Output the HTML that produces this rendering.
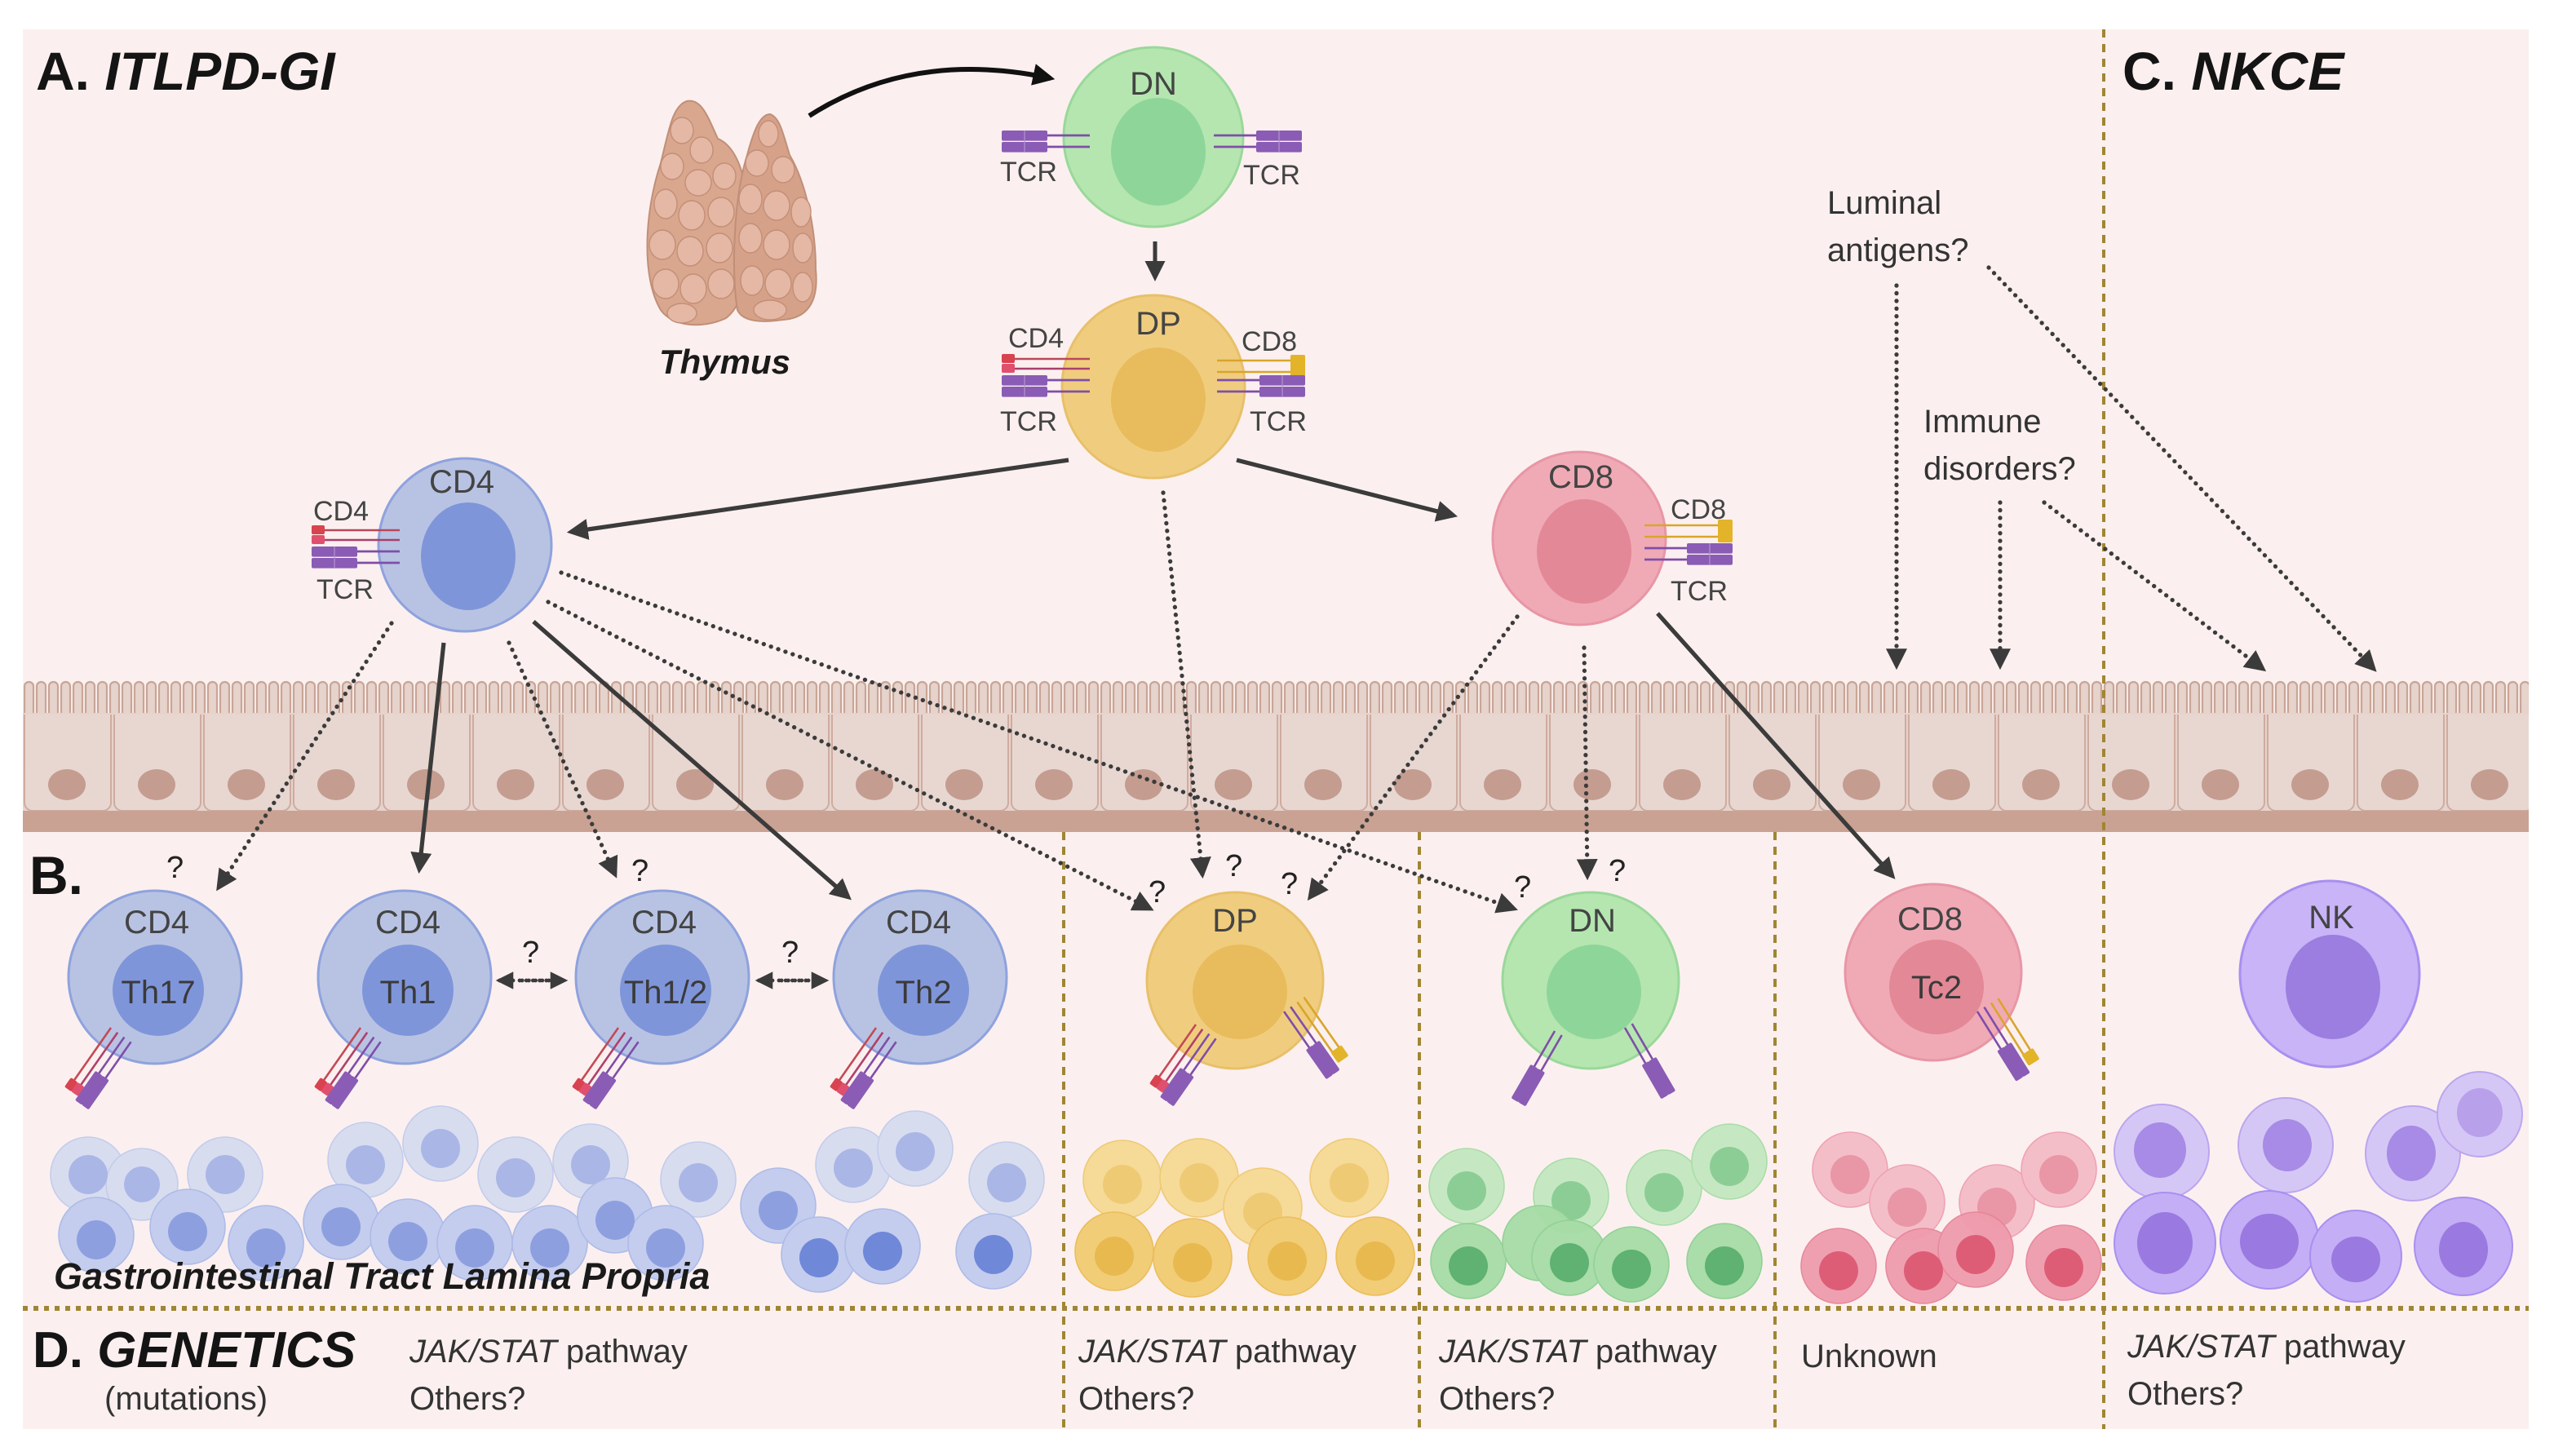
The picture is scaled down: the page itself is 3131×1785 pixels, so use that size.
<!DOCTYPE html>
<html><head><meta charset="utf-8">
<style>
html,body{margin:0;padding:0;background:#fff;}
svg{display:block;}
text{font-family:"Liberation Sans",sans-serif;}
</style></head>
<body>
<svg width="3131" height="1785" viewBox="0 0 1565.5 892.5" xmlns="http://www.w3.org/2000/svg">
<defs>
  <marker id="ah" viewBox="0 0 10 10" refX="8" refY="5" markerWidth="5" markerHeight="5" orient="auto" markerUnits="strokeWidth">
    <path d="M0,0 L10,5 L0,10 z" fill="#3b3b3b"/>
  </marker>
  <marker id="ahs" viewBox="0 0 10 10" refX="8" refY="5" markerWidth="4.5" markerHeight="4.5" orient="auto" markerUnits="strokeWidth">
    <path d="M0,0 L10,5 L0,10 z" fill="#3b3b3b"/>
  </marker>
  <marker id="ahb" viewBox="0 0 10 10" refX="8" refY="5" markerWidth="4.5" markerHeight="4.5" orient="auto" markerUnits="strokeWidth">
    <path d="M0,0 L10,5 L0,10 z" fill="#111"/>
  </marker>
  <pattern id="villi" x="14" y="417" width="7.5" height="30" patternUnits="userSpaceOnUse">
    <rect width="7.5" height="30" fill="#fbf1ef"/>
    <rect x="1" y="1" width="5.5" height="40" rx="2.7" fill="#e6d3cc" stroke="#c9a597" stroke-width="1.1"/>
  </pattern>
  <pattern id="ecell" x="14" y="0" width="55" height="600" patternUnits="userSpaceOnUse">
    <rect x="0" y="0" width="55" height="600" fill="#e6d3cc"/>
    <rect x="1" y="400" width="53" height="97" rx="5" fill="#e8d7d1" stroke="#cfab9f" stroke-width="1"/>
    <ellipse cx="27" cy="481" rx="11.5" ry="9.5" fill="#c49c90"/>
  </pattern>
  <g id="b4">
    <line x1="0" y1="0" x2="0" y2="40" stroke="#c44a55" stroke-width="1.3"/>
    <line x1="5" y1="0" x2="5" y2="40" stroke="#b0406b" stroke-width="1.3"/>
    <rect x="-2.6" y="39" width="5.2" height="7" rx="1" fill="#d9424f"/>
    <rect x="2.4" y="39" width="5.2" height="7" rx="1" fill="#e0506e"/>
    <line x1="10" y1="0" x2="10" y2="28" stroke="#7f4ea8" stroke-width="1.3"/>
    <line x1="15" y1="0" x2="15" y2="28" stroke="#7f4ea8" stroke-width="1.3"/>
    <rect x="7.4" y="27" width="5.2" height="22" rx="1" fill="#8a5cb5"/>
    <rect x="12.4" y="27" width="5.2" height="22" rx="1" fill="#8a5cb5"/>
  </g>
  <g id="b8">
    <line x1="0" y1="0" x2="0" y2="28" stroke="#7f4ea8" stroke-width="1.3"/>
    <line x1="5" y1="0" x2="5" y2="28" stroke="#7f4ea8" stroke-width="1.3"/>
    <rect x="-2.6" y="27" width="5.2" height="22" rx="1" fill="#8a5cb5"/>
    <rect x="2.4" y="27" width="5.2" height="22" rx="1" fill="#8a5cb5"/>
    <line x1="10" y1="0" x2="10" y2="38" stroke="#d9a52a" stroke-width="1.3"/>
    <line x1="15" y1="0" x2="15" y2="38" stroke="#d9a52a" stroke-width="1.3"/>
    <rect x="9" y="37" width="8" height="8" rx="1" fill="#e3b32a"/>
  </g>
  <g id="bt">
    <line x1="0" y1="0" x2="0" y2="26" stroke="#7f4ea8" stroke-width="1.3"/>
    <line x1="5" y1="0" x2="5" y2="26" stroke="#7f4ea8" stroke-width="1.3"/>
    <rect x="-2.6" y="25" width="5.2" height="24" rx="1" fill="#8a5cb5"/>
    <rect x="2.4" y="25" width="5.2" height="24" rx="1" fill="#8a5cb5"/>
  </g>
  <g id="htcrL">
    <line x1="0" y1="0" x2="-26" y2="0" stroke="#7f4ea8" stroke-width="1.4"/>
    <line x1="0" y1="7" x2="-26" y2="7" stroke="#7f4ea8" stroke-width="1.4"/>
    <rect x="-54" y="-3" width="28" height="6.3" rx="1" fill="#8a5cb5"/>
    <rect x="-54" y="4" width="28" height="6.3" rx="1" fill="#8a5cb5"/>
    <line x1="-40" y1="-3" x2="-40" y2="10" stroke="#b193cf" stroke-width="0.6"/>
  </g>
  <g id="hcd4L">
    <line x1="0" y1="0" x2="-50" y2="0" stroke="#b8485a" stroke-width="1.3"/>
    <line x1="0" y1="6" x2="-50" y2="6" stroke="#a8406e" stroke-width="1.3"/>
    <rect x="-54" y="-3" width="8" height="5.5" rx="1" fill="#d9424f"/>
    <rect x="-54" y="3" width="8" height="5.5" rx="1" fill="#e0506e"/>
  </g>
  <g id="hcd8R">
    <line x1="0" y1="0" x2="46" y2="0" stroke="#d9a52a" stroke-width="1.3"/>
    <line x1="0" y1="7" x2="46" y2="7" stroke="#d9a52a" stroke-width="1.3"/>
    <rect x="45" y="-3.5" width="9" height="14" rx="1" fill="#e3b32a"/>
  </g>
</defs>

<rect x="14" y="18" width="1536" height="858" fill="#fbf0ef"/>

<!-- epithelium -->
<rect x="14" y="417" width="1536" height="22" fill="url(#villi)"/>
<rect x="14" y="437" width="1536" height="3" fill="#e6d3cc"/>
<rect x="14" y="438" width="1536" height="60" fill="url(#ecell)"/>
<rect x="14" y="497" width="1536" height="13" fill="#c9a294"/>

<g stroke="#a08634" stroke-width="2" stroke-dasharray="5 4" fill="none">
  <line x1="1289.5" y1="18" x2="1289.5" y2="876"/>
  <line x1="652" y1="510" x2="652" y2="876"/>
  <line x1="870" y1="510" x2="870" y2="876"/>
  <line x1="1088" y1="510" x2="1088" y2="876"/>
</g>
<line x1="14" y1="802" x2="1550" y2="802" stroke="#a08634" stroke-width="3" stroke-dasharray="3 3.5"/>

<text x="22" y="55" font-size="33" font-weight="bold" fill="#141414">A. <tspan font-style="italic">ITLPD-GI</tspan></text>
<text x="1301" y="55" font-size="33" font-weight="bold" fill="#141414">C. <tspan font-style="italic">NKCE</tspan></text>
<text x="18" y="548" font-size="33" font-weight="bold" fill="#141414">B.</text>

<!-- Thymus -->
<g stroke="#c08f78" stroke-width="1">
  <path d="M405,190 C393,170 395,130 405,100 C410,80 412,65 421,62 C430,60 434,72 440,85 C452,90 458,110 458,130 C460,160 458,185 445,195 C430,202 412,200 405,190 Z" fill="#d9a68e"/>
  <path d="M452,190 C448,165 450,120 458,95 C462,80 466,70 472,70 C478,72 480,82 484,95 C494,112 500,140 500,165 C502,185 495,195 480,196 C466,198 455,197 452,190 Z" fill="#d6a189"/>
</g>
<g fill="#e4b8a4" stroke="#c48e77" stroke-width="0.7">
  <ellipse cx="418" cy="80" rx="7" ry="8"/><ellipse cx="430" cy="92" rx="7" ry="8"/><ellipse cx="412" cy="102" rx="7" ry="8"/><ellipse cx="428" cy="112" rx="8" ry="8"/><ellipse cx="444" cy="108" rx="7" ry="8"/>
  <ellipse cx="408" cy="125" rx="7" ry="9"/><ellipse cx="424" cy="132" rx="8" ry="9"/><ellipse cx="442" cy="130" rx="8" ry="9"/>
  <ellipse cx="406" cy="150" rx="8" ry="9"/><ellipse cx="423" cy="154" rx="8" ry="9"/><ellipse cx="441" cy="152" rx="8" ry="9"/>
  <ellipse cx="408" cy="174" rx="8" ry="9"/><ellipse cx="425" cy="177" rx="8" ry="9"/><ellipse cx="442" cy="174" rx="8" ry="9"/><ellipse cx="418" cy="192" rx="9" ry="6"/>
  <ellipse cx="471" cy="82" rx="6" ry="8"/><ellipse cx="464" cy="100" rx="7" ry="8"/><ellipse cx="480" cy="104" rx="7" ry="8"/>
  <ellipse cx="460" cy="122" rx="7" ry="9"/><ellipse cx="476" cy="126" rx="8" ry="9"/><ellipse cx="491" cy="130" rx="6" ry="9"/>
  <ellipse cx="460" cy="146" rx="7" ry="9"/><ellipse cx="476" cy="150" rx="8" ry="9"/><ellipse cx="492" cy="152" rx="6" ry="9"/>
  <ellipse cx="461" cy="172" rx="7" ry="9"/><ellipse cx="477" cy="174" rx="8" ry="9"/><ellipse cx="492" cy="176" rx="6" ry="9"/><ellipse cx="472" cy="190" rx="10" ry="6"/>
</g>
<text x="404" y="229" font-size="21" font-weight="bold" font-style="italic" fill="#1a1a1a">Thymus</text>
<path d="M496,71 Q560,30 644,48" fill="none" stroke="#111" stroke-width="3" marker-end="url(#ahb)"/>

<!-- DN top -->
<circle cx="707" cy="84" r="55" fill="#b5e6b0" stroke="#9ad89a" stroke-width="1.5"/>
<ellipse cx="710" cy="93" rx="29" ry="33" fill="#8ed59a"/>
<text x="707" y="58" font-size="20" fill="#444" text-anchor="middle">DN</text>
<use href="#htcrL" x="668" y="83"/>
<use href="#htcrL" transform="translate(744,83) scale(-1,1)"/>
<text x="613" y="111" font-size="17" fill="#444">TCR</text>
<text x="762" y="113" font-size="17" fill="#444">TCR</text>

<line x1="708" y1="148" x2="708" y2="170" stroke="#3b3b3b" stroke-width="2.5" marker-end="url(#ah)"/>

<!-- DP top -->
<circle cx="707" cy="237" r="56" fill="#f0cd7e" stroke="#e8c06a" stroke-width="1.5"/>
<ellipse cx="710" cy="245" rx="29" ry="32" fill="#e8bb5c"/>
<text x="710" y="205" font-size="20" fill="#444" text-anchor="middle">DP</text>
<use href="#hcd4L" x="668" y="220"/>
<use href="#htcrL" x="668" y="233"/>
<use href="#hcd8R" x="746" y="221"/>
<use href="#htcrL" transform="translate(746,233) scale(-1,1)"/>
<text x="618" y="213" font-size="17" fill="#444">CD4</text>
<text x="613" y="264" font-size="17" fill="#444">TCR</text>
<text x="761" y="215" font-size="17" fill="#444">CD8</text>
<text x="766" y="264" font-size="17" fill="#444">TCR</text>

<!-- CD4 top -->
<circle cx="285" cy="334" r="53" fill="#b8c3e3" stroke="#8fa2de" stroke-width="1.5"/>
<ellipse cx="287" cy="341" rx="29" ry="33" fill="#7f95da"/>
<text x="283" y="302" font-size="20" fill="#444" text-anchor="middle">CD4</text>
<use href="#hcd4L" x="245" y="325"/>
<use href="#htcrL" x="245" y="338"/>
<text x="192" y="319" font-size="17" fill="#444">CD4</text>
<text x="194" y="367" font-size="17" fill="#444">TCR</text>

<!-- CD8 top -->
<circle cx="968" cy="330" r="53" fill="#f0aab6" stroke="#e896a6" stroke-width="1.5"/>
<ellipse cx="971" cy="338" rx="29" ry="32" fill="#e38896"/>
<text x="969" y="299" font-size="20" fill="#444" text-anchor="middle">CD8</text>
<use href="#hcd8R" x="1008" y="322"/>
<use href="#htcrL" transform="translate(1008,336) scale(-1,1)"/>
<text x="1024" y="318" font-size="17" fill="#444">CD8</text>
<text x="1024" y="368" font-size="17" fill="#444">TCR</text>

<g stroke="#3b3b3b" stroke-width="2.6" fill="none" marker-end="url(#ah)">
  <line x1="655" y1="282" x2="350" y2="326"/>
  <line x1="758" y1="282" x2="891" y2="316"/>
  <line x1="272" y1="394" x2="257" y2="533"/>
  <line x1="327" y1="381" x2="520" y2="550"/>
  <line x1="1016" y1="376" x2="1160" y2="537"/>
</g>
<g stroke="#3b3b3b" stroke-width="2.6" fill="none" stroke-dasharray="0.1 4.6" stroke-linecap="round" marker-end="url(#ah)">
  <line x1="240" y1="382" x2="134" y2="544"/>
  <line x1="312" y1="394" x2="377" y2="536"/>
  <line x1="336" y1="369" x2="705" y2="557"/>
  <line x1="344" y1="351" x2="928" y2="557"/>
  <line x1="713" y1="302" x2="737" y2="536"/>
  <line x1="930" y1="378" x2="803" y2="550"/>
  <line x1="971" y1="397" x2="973" y2="537"/>
  <line x1="1162.5" y1="175" x2="1162.5" y2="408"/>
  <line x1="1226" y1="308" x2="1226" y2="408"/>
  <line x1="1253" y1="308" x2="1387" y2="410"/>
  <line x1="1219" y1="164" x2="1455" y2="410"/>
</g>
<g stroke="#3b3b3b" stroke-width="2.4" fill="none" stroke-dasharray="0.1 4" stroke-linecap="round" marker-end="url(#ahs)">
  <line x1="320" y1="601" x2="346" y2="601"/>
  <line x1="335" y1="601" x2="306" y2="601"/>
  <line x1="479" y1="601" x2="506" y2="601"/>
  <line x1="494" y1="601" x2="465" y2="601"/>
</g>

<g font-size="19" fill="#222">
  <text x="102" y="538">?</text>
  <text x="387" y="540">?</text>
  <text x="320" y="590">?</text>
  <text x="479" y="590">?</text>
  <text x="704" y="553">?</text>
  <text x="751" y="537">?</text>
  <text x="785" y="548">?</text>
  <text x="928" y="550">?</text>
  <text x="986" y="540">?</text>
</g>

<text x="1120" y="131" font-size="20" fill="#333">Luminal</text>
<text x="1120" y="160" font-size="20" fill="#333">antigens?</text>
<text x="1179" y="265" font-size="20" fill="#333">Immune</text>
<text x="1179" y="294" font-size="20" fill="#333">disorders?</text>

<!-- Background cell clusters -->
<g>
  <g fill="#d6dcf0" stroke="#c2cbeb" stroke-width="0.8" opacity="0.95">
    <circle cx="54" cy="720" r="23"/><circle cx="87" cy="726" r="22"/><circle cx="138" cy="720" r="23"/>
    <circle cx="224" cy="711" r="23"/><circle cx="270" cy="701" r="23"/><circle cx="316" cy="720" r="23"/>
    <circle cx="362" cy="712" r="23"/><circle cx="428" cy="723" r="23"/><circle cx="523" cy="714" r="23"/><circle cx="561" cy="704" r="23"/><circle cx="617" cy="723" r="23"/>
  </g>
  <g fill="#aab6e6">
    <circle cx="54" cy="720" r="12"/><circle cx="87" cy="726" r="11"/><circle cx="138" cy="720" r="12"/>
    <circle cx="224" cy="714" r="12"/><circle cx="270" cy="704" r="12"/><circle cx="316" cy="722" r="12"/>
    <circle cx="362" cy="714" r="12"/><circle cx="428" cy="725" r="12"/><circle cx="523" cy="716" r="12"/><circle cx="561" cy="706" r="12"/><circle cx="617" cy="725" r="12"/>
  </g>
  <g fill="#c4cdee" stroke="#aebbe8" stroke-width="0.8">
    <circle cx="59" cy="757" r="23"/><circle cx="115" cy="752" r="23"/><circle cx="163" cy="762" r="23"/>
    <circle cx="209" cy="749" r="23"/><circle cx="250" cy="758" r="23"/><circle cx="291" cy="762" r="23"/><circle cx="337" cy="762" r="23"/>
    <circle cx="377" cy="745" r="23"/><circle cx="408" cy="762" r="23"/><circle cx="477" cy="739" r="23"/>
    <circle cx="502" cy="769" r="23"/><circle cx="541" cy="764" r="23"/><circle cx="609" cy="767" r="23"/>
  </g>
  <g fill="#8d9fdf">
    <circle cx="59" cy="760" r="12"/><circle cx="115" cy="755" r="12"/><circle cx="163" cy="765" r="12"/>
    <circle cx="209" cy="752" r="12"/><circle cx="250" cy="761" r="12"/><circle cx="291" cy="765" r="12"/><circle cx="337" cy="765" r="12"/>
    <circle cx="377" cy="748" r="12"/><circle cx="408" cy="765" r="12"/><circle cx="477" cy="742" r="12"/>
    <circle cx="502" cy="771" r="12" fill="#6f88d8"/><circle cx="541" cy="767" r="12" fill="#6f88d8"/><circle cx="609" cy="769" r="12" fill="#6f88d8"/>
  </g>
</g>
<g>
  <g fill="#f6d994" stroke="#efc870" stroke-width="0.8" opacity="0.95">
    <circle cx="688" cy="723" r="24"/><circle cx="735" cy="722" r="24"/><circle cx="827" cy="722" r="24"/><circle cx="774" cy="740" r="24"/>
  </g>
  <g fill="#efca74"><circle cx="688" cy="726" r="12"/><circle cx="735" cy="725" r="12"/><circle cx="827" cy="725" r="12"/><circle cx="774" cy="743" r="12"/></g>
  <g fill="#f2cd78" stroke="#ebbd5c" stroke-width="0.8">
    <circle cx="683" cy="767" r="24"/><circle cx="731" cy="771" r="24"/><circle cx="789" cy="770" r="24"/><circle cx="843" cy="770" r="24"/>
  </g>
  <g fill="#e8b94f"><circle cx="683" cy="770" r="12"/><circle cx="731" cy="774" r="12"/><circle cx="789" cy="773" r="12"/><circle cx="843" cy="773" r="12"/></g>
</g>
<g>
  <g fill="#c3e8c0" stroke="#a7dba6" stroke-width="0.8" opacity="0.95">
    <circle cx="899" cy="727" r="23"/><circle cx="963" cy="733" r="23"/><circle cx="1020" cy="728" r="23"/><circle cx="1060" cy="712" r="23"/>
  </g>
  <g fill="#8ccd96"><circle cx="899" cy="730" r="12"/><circle cx="963" cy="736" r="12"/><circle cx="1020" cy="731" r="12"/><circle cx="1060" cy="715" r="12"/></g>
  <g fill="#a6dca6" stroke="#8fcf93" stroke-width="0.8" opacity="0.95">
    <circle cx="900" cy="773" r="23"/><circle cx="944" cy="762" r="23"/><circle cx="962" cy="771" r="23"/><circle cx="1000" cy="775" r="23"/><circle cx="1057" cy="773" r="23"/>
  </g>
  <g fill="#5fb271"><circle cx="900" cy="776" r="12"/><circle cx="962" cy="774" r="12"/><circle cx="1000" cy="778" r="12"/><circle cx="1057" cy="776" r="12"/></g>
</g>
<g>
  <g fill="#f4bcc7" stroke="#ee9fb0" stroke-width="0.8" opacity="0.95">
    <circle cx="1134" cy="717" r="23"/><circle cx="1169" cy="737" r="23"/><circle cx="1224" cy="737" r="23"/><circle cx="1262" cy="717" r="23"/>
  </g>
  <g fill="#e996a7"><circle cx="1134" cy="720" r="12"/><circle cx="1169" cy="740" r="12"/><circle cx="1224" cy="740" r="12"/><circle cx="1262" cy="720" r="12"/></g>
  <g fill="#ef9cad" stroke="#e58599" stroke-width="0.8" opacity="0.95">
    <circle cx="1127" cy="776" r="23"/><circle cx="1179" cy="776" r="23"/><circle cx="1211" cy="766" r="23"/><circle cx="1265" cy="774" r="23"/>
  </g>
  <g fill="#dd5d77"><circle cx="1127" cy="779" r="12"/><circle cx="1179" cy="779" r="12"/><circle cx="1211" cy="769" r="12"/><circle cx="1265" cy="777" r="12"/></g>
</g>
<g>
  <g fill="#d4c5f6" stroke="#b9a3f0" stroke-width="1" opacity="0.95">
    <circle cx="1325" cy="706" r="29"/><circle cx="1401" cy="702" r="29"/><circle cx="1479" cy="707" r="29"/><circle cx="1520" cy="683" r="26"/>
  </g>
  <g fill="#a78be6"><ellipse cx="1324" cy="705" rx="16" ry="17"/><ellipse cx="1402" cy="702" rx="15" ry="16"/><ellipse cx="1478" cy="707" rx="15" ry="17"/><ellipse cx="1520" cy="682" rx="14" ry="15" fill="#b9a0ea"/></g>
  <g fill="#c4aef5" stroke="#a98ff0" stroke-width="1">
    <circle cx="1327" cy="762" r="31"/><circle cx="1391" cy="760" r="30"/><circle cx="1444" cy="770" r="28"/><circle cx="1510" cy="764" r="30"/>
  </g>
  <g fill="#9a79e0"><ellipse cx="1327" cy="762" rx="17" ry="19"/><ellipse cx="1391" cy="761" rx="18" ry="17"/><ellipse cx="1444" cy="772" rx="15" ry="14"/><ellipse cx="1510" cy="766" rx="15" ry="17"/></g>
</g>

<!-- B row cells -->
<g>
  <circle cx="95" cy="599" r="53" fill="#b8c3e3" stroke="#8fa2de" stroke-width="1.5"/>
  <circle cx="97" cy="607" r="28" fill="#7f95da"/>
  <text x="96" y="572" font-size="20" fill="#444" text-anchor="middle">CD4</text>
  <text x="97" y="615" font-size="20" fill="#3a3a3a" text-anchor="middle">Th17</text>

  <circle cx="248" cy="599" r="53" fill="#b8c3e3" stroke="#8fa2de" stroke-width="1.5"/>
  <circle cx="250" cy="607" r="28" fill="#7f95da"/>
  <text x="250" y="572" font-size="20" fill="#444" text-anchor="middle">CD4</text>
  <text x="250" y="615" font-size="20" fill="#3a3a3a" text-anchor="middle">Th1</text>

  <circle cx="406" cy="599" r="53" fill="#b8c3e3" stroke="#8fa2de" stroke-width="1.5"/>
  <circle cx="408" cy="607" r="28" fill="#7f95da"/>
  <text x="407" y="572" font-size="20" fill="#444" text-anchor="middle">CD4</text>
  <text x="408" y="615" font-size="20" fill="#3a3a3a" text-anchor="middle">Th1/2</text>

  <circle cx="564" cy="599" r="53" fill="#b8c3e3" stroke="#8fa2de" stroke-width="1.5"/>
  <circle cx="566" cy="607" r="28" fill="#7f95da"/>
  <text x="563" y="572" font-size="20" fill="#444" text-anchor="middle">CD4</text>
  <text x="566" y="615" font-size="20" fill="#3a3a3a" text-anchor="middle">Th2</text>

  <circle cx="757" cy="601" r="54" fill="#f0cd7e" stroke="#e8c06a" stroke-width="1.5"/>
  <circle cx="760" cy="608" r="29" fill="#e8bb5c"/>
  <text x="757" y="571" font-size="20" fill="#444" text-anchor="middle">DP</text>

  <circle cx="975" cy="601" r="54" fill="#b5e6b0" stroke="#9ad89a" stroke-width="1.5"/>
  <circle cx="977" cy="608" r="29" fill="#8ed59a"/>
  <text x="976" y="571" font-size="20" fill="#444" text-anchor="middle">DN</text>

  <circle cx="1185" cy="596" r="54" fill="#f0aab6" stroke="#e896a6" stroke-width="1.5"/>
  <circle cx="1187" cy="605" r="29" fill="#e38896"/>
  <text x="1183" y="570" font-size="20" fill="#444" text-anchor="middle">CD8</text>
  <text x="1187" y="612" font-size="20" fill="#3a3a3a" text-anchor="middle">Tc2</text>

  <ellipse cx="1428" cy="597" rx="55" ry="57" fill="#c8b4f6" stroke="#a98ff0" stroke-width="1.5"/>
  <ellipse cx="1430" cy="605" rx="29" ry="32" fill="#9c7de0"/>
  <text x="1429" y="569" font-size="20" fill="#444" text-anchor="middle">NK</text>
</g>
<use href="#b4" transform="translate(68,630) rotate(35)"/>
<use href="#b4" transform="translate(221,630) rotate(35)"/>
<use href="#b4" transform="translate(379,630) rotate(35)"/>
<use href="#b4" transform="translate(537,630) rotate(35)"/>
<use href="#b4" transform="translate(733,628) rotate(35)"/>
<use href="#b8" transform="translate(787,620) rotate(-35)"/>
<use href="#bt" transform="translate(953,632) rotate(30)"/>
<use href="#bt" transform="translate(996,630) rotate(-30)"/>
<use href="#b8" transform="translate(1212,620) rotate(-32)"/>

<text x="33" y="790" font-size="22.5" font-weight="bold" font-style="italic" fill="#1a1a1a">Gastrointestinal Tract Lamina Propria</text>

<text x="20" y="838" font-size="31" font-weight="bold" fill="#141414">D. <tspan font-style="italic">GENETICS</tspan></text>
<text x="64" y="864" font-size="20" fill="#333">(mutations)</text>
<g font-size="20" fill="#333">
  <text x="251" y="835"><tspan font-style="italic">JAK/STAT</tspan> pathway</text>
  <text x="251" y="864">Others?</text>
  <text x="661" y="835"><tspan font-style="italic">JAK/STAT</tspan> pathway</text>
  <text x="661" y="864">Others?</text>
  <text x="882" y="835"><tspan font-style="italic">JAK/STAT</tspan> pathway</text>
  <text x="882" y="864">Others?</text>
  <text x="1104" y="838">Unknown</text>
  <text x="1304" y="832"><tspan font-style="italic">JAK/STAT</tspan> pathway</text>
  <text x="1304" y="861">Others?</text>
</g>
</svg>
</body></html>
